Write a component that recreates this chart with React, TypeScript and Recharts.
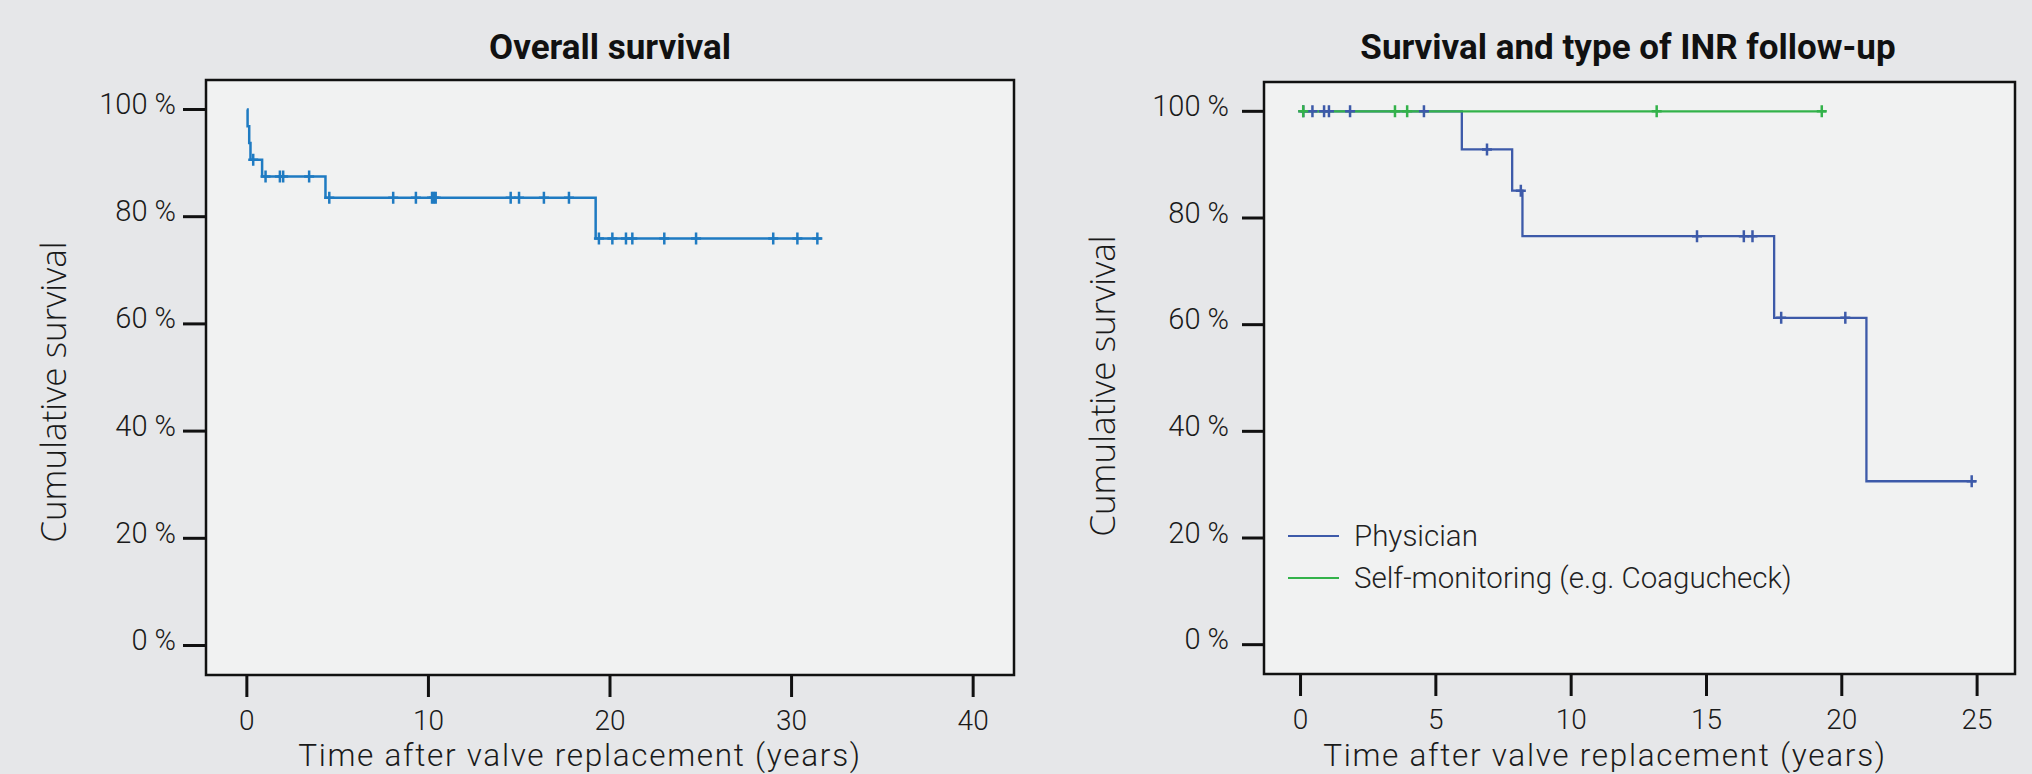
import { ComposedChart, Line, Scatter, XAxis, YAxis, ReferenceArea, Legend } from 'recharts';

// Kaplan-Meier steps (time in years, survival in %)
const overallSteps = [
  { t: 0, s: 100 }, { t: 0.04, s: 96.88 }, { t: 0.13, s: 93.75 }, { t: 0.2, s: 90.63 },
  { t: 0.84, s: 87.5 }, { t: 4.33, s: 83.52 }, { t: 19.21, s: 75.93 }, { t: 31.66, s: 75.93 },
];
const overallCensored = [
  { t: 0.35, s: 90.63 },
  { t: 1.03, s: 87.5 }, { t: 1.82, s: 87.5 }, { t: 2.0, s: 87.5 }, { t: 3.43, s: 87.5 },
  { t: 4.54, s: 83.52 }, { t: 8.06, s: 83.52 }, { t: 9.31, s: 83.52 }, { t: 10.2, s: 83.52 },
  { t: 10.3, s: 83.52 }, { t: 10.4, s: 83.52 }, { t: 14.53, s: 83.52 }, { t: 14.99, s: 83.52 },
  { t: 16.36, s: 83.52 }, { t: 17.74, s: 83.52 },
  { t: 19.39, s: 75.93 }, { t: 20.13, s: 75.93 }, { t: 20.88, s: 75.93 }, { t: 21.23, s: 75.93 },
  { t: 22.99, s: 75.93 }, { t: 24.74, s: 75.93 }, { t: 28.99, s: 75.93 }, { t: 30.32, s: 75.93 },
  { t: 31.42, s: 75.93 },
];

const physicianSteps = [
  { t: 0, s: 100 }, { t: 5.96, s: 92.86 }, { t: 7.82, s: 85.12 }, { t: 8.2, s: 76.6 },
  { t: 17.5, s: 61.28 }, { t: 20.91, s: 30.64 }, { t: 24.96, s: 30.64 },
];
const physicianCensored = [
  { t: 0.1, s: 100 }, { t: 0.44, s: 100 }, { t: 0.87, s: 100 }, { t: 1.05, s: 100 },
  { t: 1.83, s: 100 }, { t: 4.56, s: 100 }, { t: 6.89, s: 92.86 }, { t: 8.14, s: 85.12 },
  { t: 14.65, s: 76.6 }, { t: 16.38, s: 76.6 }, { t: 16.7, s: 76.6 },
  { t: 17.76, s: 61.28 }, { t: 20.13, s: 61.28 }, { t: 24.8, s: 30.64 },
];
const selfSteps = [{ t: 0, s: 100 }, { t: 19.42, s: 100 }];
const selfCensored = [
  { t: 0.1, s: 100 }, { t: 3.49, s: 100 }, { t: 3.94, s: 100 }, { t: 13.16, s: 100 }, { t: 19.26, s: 100 },
];

const overallXTicks = [0, 10, 20, 30, 40];
const inrXTicks = [0, 5, 10, 15, 20, 25];
const yTicks = [0, 20, 40, 60, 80, 100];

const inrSeries = [
  { name: 'Physician', color: '#3d5aa9' },
  { name: 'Self-monitoring (e.g. Coagucheck)', color: '#33b24a' },
];
const overallColor = '#1f7bc2';

const BG = '#e6e7e9';
const PLOT_BG = '#f1f2f2';
const FONT = 'Roboto, "Liberation Sans", sans-serif';

const censorShape = (color: string) => (props: any) => {
  const { cx, cy } = props;
  return (
    <path d={`M${cx},${cy - 6}V${cy + 6}M${cx - 5},${cy}H${cx + 5}`} stroke={color} strokeWidth={2.5} fill="none" />
  );
};

const YTick = (props: any) => {
  const { x, y, payload } = props;
  return (
    <text x={x} y={y} dy={4.5} textAnchor="end" fontFamily={FONT} fontWeight={300} fontSize={29} fill="#1a1a1a">
      {payload.value} %
    </text>
  );
};

const XTick = (props: any) => {
  const { x, y, payload } = props;
  return (
    <text x={x} y={y} dy={32.5} textAnchor="middle" fontFamily={FONT} fontWeight={300} fontSize={28} fill="#1a1a1a">
      {payload.value}
    </text>
  );
};

const InrLegend = () => (
  <div style={{ fontFamily: FONT, fontWeight: 300, fontSize: 29.5, color: '#222' }}>
    {inrSeries.map(s => (
      <div key={s.name} style={{ display: 'flex', alignItems: 'center', height: 42, whiteSpace: 'nowrap' }}>
        <span style={{ display: 'inline-block', width: 51, borderTop: `2.5px solid ${s.color}`, marginRight: 15 }} />
        {s.name}
      </div>
    ))}
  </div>
);

export default function App() {
  const tickLine = { stroke: '#111', strokeWidth: 3 };
  return (
    <div style={{ position: 'absolute', left: 0, top: 0, width: 2032, height: 774, background: BG, overflow: 'hidden' }}>
      <div style={{ position: 'absolute', left: 0, top: 0 }}>
        <ComposedChart width={1016} height={774} margin={{ top: 80, right: 2, left: 0, bottom: 0 }}>
          <XAxis type="number" dataKey="t" domain={[-2.25, 42.25]} ticks={overallXTicks} height={99}
            axisLine={false} tickLine={tickLine} tickSize={22} tickMargin={0} tick={<XTick />} allowDataOverflow />
          <YAxis type="number" dataKey="s" domain={[-5.5, 105.5]} ticks={yTicks} width={206}
            axisLine={false} tickLine={tickLine} tickSize={23} tickMargin={7} tick={<YTick />} allowDataOverflow />
          <ReferenceArea x1={-2.25} x2={42.25} y1={-5.5} y2={105.5} fill={PLOT_BG} fillOpacity={1}
            stroke="#111" strokeWidth={2.5} ifOverflow="visible" />
          <Line data={overallSteps} dataKey="s" type="stepAfter" stroke={overallColor} strokeWidth={2.5}
            dot={false} activeDot={false} isAnimationActive={false} />
          <Scatter data={overallCensored} dataKey="s" shape={censorShape(overallColor)} isAnimationActive={false} />
        </ComposedChart>
      </div>
      <div style={{ position: 'absolute', left: 1016, top: 0 }}>
        <ComposedChart width={1016} height={774} margin={{ top: 82, right: 17, left: 0, bottom: 0 }}>
          <XAxis type="number" dataKey="t" domain={[-1.35, 26.4]} ticks={inrXTicks} height={100}
            axisLine={false} tickLine={tickLine} tickSize={22} tickMargin={0} tick={<XTick />} allowDataOverflow />
          <YAxis type="number" dataKey="s" domain={[-5.5, 105.5]} ticks={yTicks} width={248}
            axisLine={false} tickLine={tickLine} tickSize={22} tickMargin={13} tick={<YTick />} allowDataOverflow />
          <ReferenceArea x1={-1.35} x2={26.4} y1={-5.5} y2={105.5} fill={PLOT_BG} fillOpacity={1}
            stroke="#111" strokeWidth={2.5} ifOverflow="visible" />
          <Line data={physicianSteps} dataKey="s" name={inrSeries[0].name} type="stepAfter" stroke={inrSeries[0].color}
            strokeWidth={2.3} dot={false} activeDot={false} isAnimationActive={false} />
          <Line data={selfSteps} dataKey="s" name={inrSeries[1].name} type="stepAfter" stroke={inrSeries[1].color}
            strokeWidth={2.3} dot={false} activeDot={false} isAnimationActive={false} />
          <Scatter data={physicianCensored} dataKey="s" shape={censorShape(inrSeries[0].color)} isAnimationActive={false} />
          <Scatter data={selfCensored} dataKey="s" shape={censorShape(inrSeries[1].color)} isAnimationActive={false} />
          <Legend layout="horizontal" verticalAlign="middle" align="center" content={<InrLegend />}
            wrapperStyle={{ position: 'absolute', left: 272, top: 515, width: 'auto' }} />
        </ComposedChart>
      </div>
      <svg width={2032} height={774} style={{ position: 'absolute', left: 0, top: 0, pointerEvents: 'none' }}>
        <g fontFamily={FONT} fill="#111" fontWeight={700} fontSize={35}>
          <text x={610} y={59} textAnchor="middle">Overall survival</text>
          <text x={1628} y={59} textAnchor="middle">Survival and type of INR follow-up</text>
        </g>
        <g fontFamily={FONT} fontWeight={300} fontSize={31.5} letterSpacing={1.7} fill="#1a1a1a">
          <text x={580} y={766} textAnchor="middle">Time after valve replacement (years)</text>
          <text x={1605} y={766} textAnchor="middle">Time after valve replacement (years)</text>
        </g>
        <g fontFamily='"Open Sans", sans-serif' fontWeight={300} fontSize={35} fill="#1a1a1a">
          <text transform="translate(52.5,392) rotate(-90)" textAnchor="middle" dominantBaseline="central">Cumulative survival</text>
          <text transform="translate(1101.5,386) rotate(-90)" textAnchor="middle" dominantBaseline="central">Cumulative survival</text>
        </g>
      </svg>
    </div>
  );
}
